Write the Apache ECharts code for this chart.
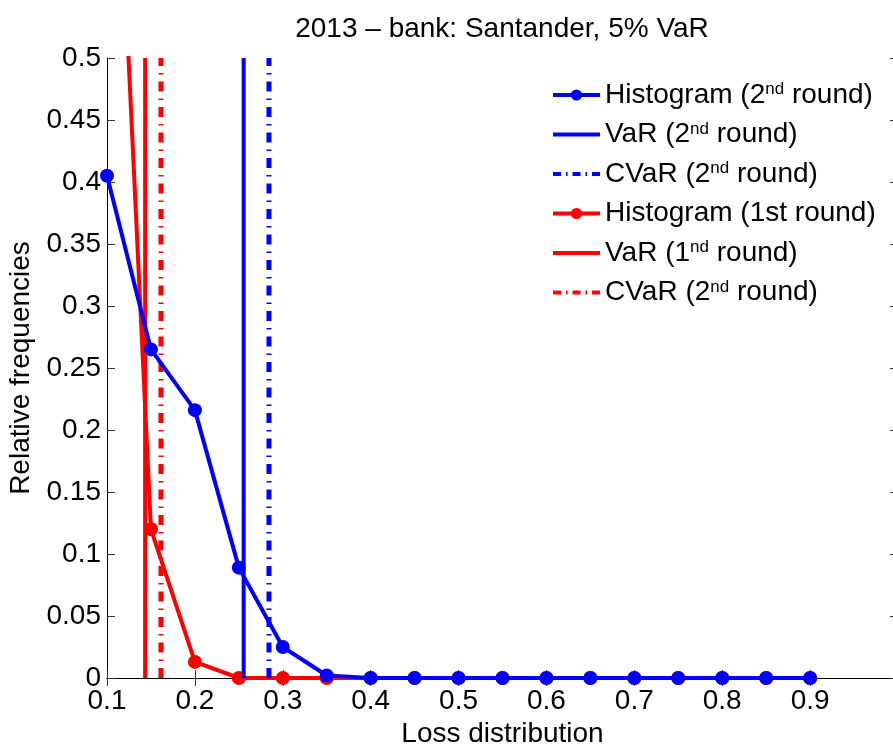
<!DOCTYPE html>
<html>
<head>
<meta charset="utf-8">
<script src="https://cdn.jsdelivr.net/npm/echarts@6/dist/echarts.min.js"></script>
<style>
  html, body { margin: 0; padding: 0; background: #fff; }
  #main { width: 893px; height: 745px; }
</style>
</head>
<body>
<div id="main"></div>
<script>
	// 数据
	var lossX = [0.1, 0.15, 0.2, 0.25, 0.3, 0.35, 0.4, 0.45, 0.5, 0.55, 0.6, 0.65, 0.7, 0.75, 0.8, 0.85, 0.9];
	var hist2nd = [0.405, 0.265, 0.216, 0.089, 0.025, 0.002, 0, 0, 0, 0, 0, 0, 0, 0, 0, 0, 0];
	var hist1st = [0.865, 0.12, 0.013, 0, 0, 0, 0, 0, 0, 0, 0, 0, 0, 0, 0, 0, 0];
	var var2nd = 0.2555;
	var cvar2nd = 0.2843;
	var var1st = 0.1434;
	var cvar1st = 0.1614;
	var yTop = 0.5;

	var legendText = {
		'hist2': 'Histogram (2{sup|nd} round)',
		'var2': 'VaR (2{sup|nd} round)',
		'cvar2': 'CVaR (2{sup|nd} round)',
		'hist1': 'Histogram (1st round)',
		'var1': 'VaR (1{sup|nd} round)',
		'cvar1': 'CVaR (2{sup|nd} round)'
	};

	function pairs(xs, ys) {
		return xs.map(function (x, i) { return [x, ys[i]]; });
	}
	function vline(x) {
		return [[x, 0], [x, yTop]];
	}

	var font = 'Liberation Sans, Arial, Helvetica, sans-serif';
	var fs = 28;
	var dashDot = [10, 7, 1.5, 7];
	var legendDash = [8, 5, 1.5, 5];
	var noDot = { opacity: 0 };

	var myChart = echarts.init(document.getElementById('main'));
	var option = {
		animation: false,
		backgroundColor: '#fff',
		title: {
			text: '2013 \u2013 bank: Santander, 5% VaR',
			left: 502,
			textAlign: 'center',
			top: 15,
			padding: 0,
			textStyle: { fontFamily: font, fontSize: fs, fontWeight: 'normal', color: '#000' }
		},
		grid: { left: 107, top: 58, right: -5, bottom: 67, containLabel: false, outerBoundsMode: 'none' },
		legend: {
			orient: 'vertical',
			left: 551,
			top: 81,
			padding: 0,
			itemWidth: 47,
			itemHeight: 14,
			itemGap: 11.5,
			data: [
				{ name: 'hist2', lineStyle: { width: 4 } },
				{ name: 'var2', lineStyle: { width: 4 }, itemStyle: noDot },
				{ name: 'cvar2', lineStyle: { width: 4, type: legendDash }, itemStyle: noDot },
				{ name: 'hist1', lineStyle: { width: 4 } },
				{ name: 'var1', lineStyle: { width: 4 }, itemStyle: noDot },
				{ name: 'cvar1', lineStyle: { width: 4, type: legendDash }, itemStyle: noDot }
			],
			formatter: function (name) { return legendText[name]; },
			textStyle: {
				fontFamily: font,
				fontSize: fs,
				color: '#000',
				padding: [0, 0, 0, 0],
				rich: {
					sup: { fontFamily: font, fontSize: 17, color: '#000', verticalAlign: 'top', padding: [0, 0, 10, 0] }
				}
			}
		},
		xAxis: [
			{
				type: 'value', min: 0.1, max: 1.0, interval: 0.1,
				name: 'Loss distribution', nameLocation: 'middle', nameGap: 38,
				nameTextStyle: { fontFamily: font, fontSize: fs, color: '#000' },
				axisLine: { lineStyle: { color: '#000', width: 1 } },
				axisTick: { inside: true, length: 8, lineStyle: { color: '#333' } },
				axisLabel: {
					fontFamily: font, fontSize: fs, color: '#000', margin: 9,
					formatter: function (v) { return v > 0.95 ? '' : v.toFixed(1); }
				},
				splitLine: { show: false }
			},
			{
				type: 'value', min: 0.1, max: 1.0, interval: 0.1, position: 'top',
				axisLine: { lineStyle: { color: '#000', width: 1 } },
				axisTick: { inside: true, length: 8, lineStyle: { color: '#333' } },
				axisLabel: { show: false },
				splitLine: { show: false }
			}
		],
		yAxis: [
			{
				type: 'value', min: 0, max: 0.5, interval: 0.05,
				name: 'Relative frequencies', nameLocation: 'middle', nameGap: 69,
				nameTextStyle: { fontFamily: font, fontSize: fs, color: '#000' },
				axisLine: { show: true, lineStyle: { color: '#000', width: 1 } },
				axisTick: { show: true, inside: true, length: 8, lineStyle: { color: '#333' } },
				axisLabel: {
					fontFamily: font, fontSize: fs, color: '#000', margin: 6,
					formatter: function (v) { return String(Math.round(v * 100) / 100); }
				},
				splitLine: { show: false }
			},
			{
				type: 'value', min: 0, max: 0.5, interval: 0.05, position: 'right',
				axisLine: { show: true, lineStyle: { color: '#000', width: 1 } },
				axisTick: { show: true, inside: true, length: 8, lineStyle: { color: '#333' } },
				axisLabel: { show: false },
				splitLine: { show: false }
			}
		],
		series: [
			{
				name: 'hist1', type: 'line', data: pairs(lossX, hist1st),
				color: '#ff0000', symbol: 'circle', symbolSize: 14, showSymbol: true,
				lineStyle: { width: 4, color: '#ff0000' }, itemStyle: { color: '#ff0000' }, z: 2
			},
			{
				name: 'var1', type: 'line', data: vline(var1st), symbol: 'none',
				color: '#ff0000', lineStyle: { width: 4, color: '#ff0000' }, z: 2
			},
			{
				name: 'cvar1', type: 'line', data: vline(cvar1st), symbol: 'none',
				color: '#ff0000', lineStyle: { width: 5, color: '#ff0000', type: dashDot }, z: 2
			},
			{
				name: 'hist2', type: 'line', data: pairs(lossX, hist2nd),
				color: '#0000ff', symbol: 'circle', symbolSize: 14, showSymbol: true,
				lineStyle: { width: 4, color: '#0000ff' }, itemStyle: { color: '#0000ff' }, z: 3
			},
			{
				name: 'var2', type: 'line', data: vline(var2nd), symbol: 'none',
				color: '#0000ff', lineStyle: { width: 4, color: '#0000ff' }, z: 3
			},
			{
				name: 'cvar2', type: 'line', data: vline(cvar2nd), symbol: 'none',
				color: '#0000ff', lineStyle: { width: 5, color: '#0000ff', type: dashDot }, z: 3
			}
		]
	};
	myChart.setOption(option);
</script>
</body>
</html>
